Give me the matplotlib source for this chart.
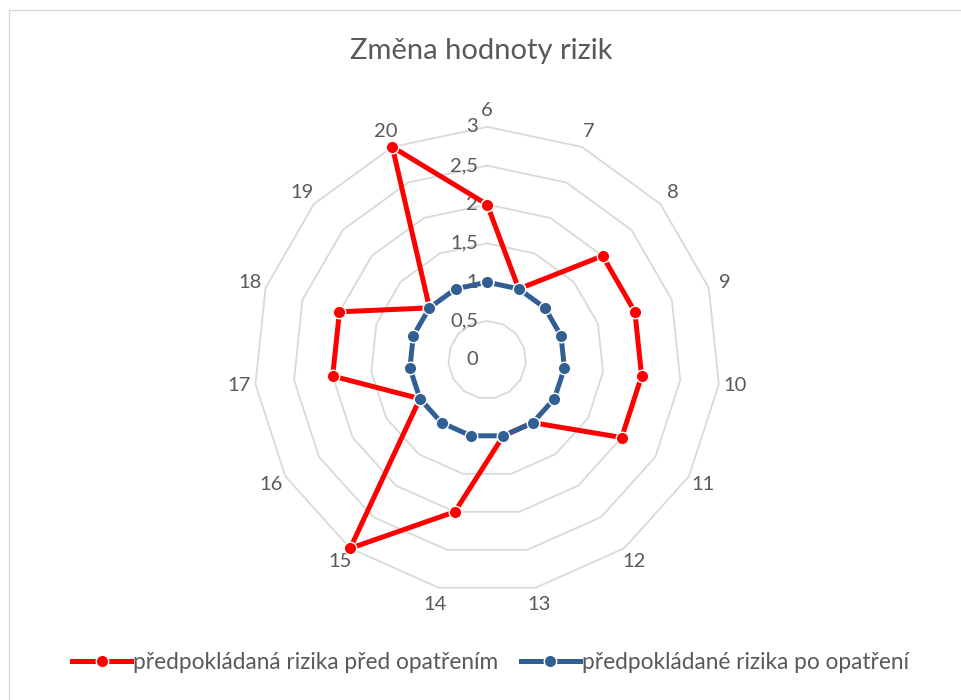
import numpy as np
import matplotlib
matplotlib.use("Agg")
import matplotlib.pyplot as plt
from matplotlib.patches import Rectangle

plt.rcParams['font.family'] = ['Lato', 'DejaVu Sans']

# kategorie (čísla rizik)
categories = ["6", "7", "8", "9", "10", "11", "12", "13", "14", "15", "16", "17", "18", "19", "20"]
# hodnoty rizik
pred = [2, 1, 2, 2, 2, 2, 1, 1, 2, 3, 1, 2, 2, 1, 3]
po = [1, 1, 1, 1, 1, 1, 1, 1, 1, 1, 1, 1, 1, 1, 1]
ring_values = [0.5, 1, 1.5, 2, 2.5, 3]
ring_labels = ["0", "0,5", "1", "1,5", "2", "2,5", "3"]

label_color = "#595959"
grid_color = "#d9d9d9"

n = len(categories)
theta = np.linspace(0, 2 * np.pi, n, endpoint=False)
theta_c = np.append(theta, theta[0])

fig = plt.figure(figsize=(9.62, 7.0), dpi=100)
ax = fig.add_axes([0.2642, 0.1531, 0.4844, 0.6657], projection="polar")
ax.set_theta_zero_location("N")
ax.set_theta_direction(-1)
ax.set_ylim(0, 3)
ax.grid(False)
ax.spines["polar"].set_visible(False)
ax.set_yticks([])

# polygonová mřížka
for v in ring_values:
    ax.plot(theta_c, [v] * (n + 1), color=grid_color, lw=1.3, zorder=1, clip_on=False)

# popisky kategorií
ax.set_xticks(theta)
ax.set_xticklabels(categories, fontsize=14.5, color=label_color)
ax.tick_params(axis="x", pad=5, length=0)

# popisky radiální osy
for v, lab in zip([0] + ring_values, ring_labels):
    ax.annotate(lab, xy=(0, v), xytext=(-9, 0), textcoords="offset pixels",
                ha="right", va="center", fontsize=14.5, color=label_color, zorder=2)

red_line, = ax.plot(theta_c, pred + pred[:1], color="#ff0000", lw=3.6, marker="o",
                    markersize=9, markeredgecolor="white", markeredgewidth=1.0,
                    zorder=3, clip_on=False, label="předpokládaná rizika před opatřením")
blue_line, = ax.plot(theta_c, po + po[:1], color="#325f93", lw=3.6, marker="o",
                     markersize=9, markeredgecolor="white", markeredgewidth=1.0,
                     zorder=4, clip_on=False, label="předpokládané rizika po opatření")

fig.suptitle("Změna hodnoty rizik", y=0.945, fontsize=21, color=label_color)

fig.legend(handles=[red_line, blue_line], loc="center", bbox_to_anchor=(0.51, 0.053),
           ncol=2, frameon=False, fontsize=16.3, labelcolor=label_color,
           handlelength=2.6, handletextpad=0.1, columnspacing=1.0)

# rámeček grafu
fig.patches.append(Rectangle((9 / 962, -0.05), 1.1, 1 - 10 / 700 + 0.05,
                             transform=fig.transFigure, fill=False,
                             edgecolor="#d9d9d9", lw=1.0))

fig.savefig("out.png", dpi=100)
